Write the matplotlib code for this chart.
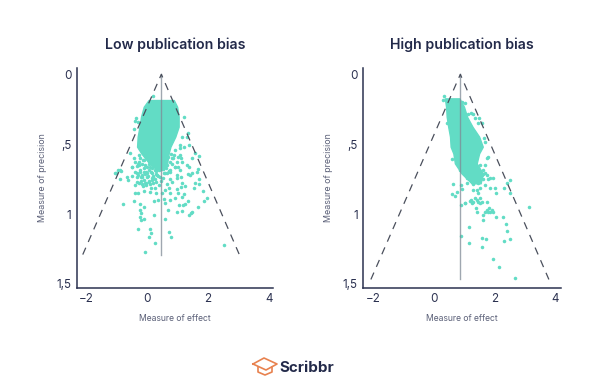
import matplotlib
matplotlib.use("Agg")
import matplotlib.pyplot as plt
from matplotlib.lines import Line2D

plt.rcParams['font.family'] = ['Inter', 'DejaVu Sans']

TEAL = '#62dcc5'
NAVY = '#232a4a'
LABEL = '#5b6078'

x_ticks = [-2, 0, 2, 4]
y_ticks = [0, 0.5, 1, 1.5]
y_labels = ['0', ',5', '1', '1,5']

titles = ['Low publication bias', 'High publication bias']

# Funnel geometry
low_center = 0.46
low_left = -2.13
low_right = 3.03
low_depth = 1.29
high_center = 0.88
high_left = -2.07
high_right = 3.80
high_depth = 1.468

# Dense core outlines
low_core_y = [.184, .232, .303, .375, .446, .518, .566, .637, .685]
low_core_l = [.04, -.12, -.21, -.26, -.32, -.34, -.20, .06, .32]
low_core_r = [.87, .98, 1.03, 1.03, .92, .76, .70, .65, .54]
high_core_y = [.172, .232, .303, .375, .446, .518, .566, .637, .709, .780]
high_core_l = [.37, .41, .43, .48, .54, .56, .65, .70, .92, 1.25]
high_core_r = [.85, 1.00, 1.10, 1.28, 1.50, 1.62, 1.50, 1.42, 1.62, 1.55]

# Individual studies
low_x = [-.81, -1.08, -.98, -.87, -.89, -.64, -.67, -.51, -.42, -.32, -.45, -.26, -.12, -.23, -.21, -.25, -.21, -.10,
         -.32, .08, .13, .05, .26, -.08, .70, .78, .57, .21, .21, .34, .54, .57, .74, .67, .96, 1.14, 1.05, 1.18, 1.25,
         1.34, 1.22, 1.14, .92, 1.66, 1.86, 1.97, 1.84, 1.53, 1.56, 1.69, 1.71, 1.36, 1.44, 1.47, 1.14, 1.25, 1.12, .96,
         1.0, .70, .74, .59, .48, .30, .10, .12, -.12, .26, .37, .65, .81, .74, .98, 1.12, 1.33, 1.47, 1.66, 1.36, 2.54,
         1.20, 1.33, 1.29, 1.14, 1.09, 1.2, 1.09, 1.36, .92, 1.09, 1.58, 1.69, 1.47, .89, .81, .98, 1.14, 1.31, .74, .65,
         .92, 1.09, 1.4, 1.64, .76, .98, .65, -.36, -.32, -.40, -.45, -.29, -.14, -.32, -.23, -.45, -.51, -.40, -.25,
         -.07, -.12, .04, .10, .26, -.56, -.89, -1.02, .19, -.18, -.34, -.01, -.51, .37, .54, .43, -.40, -.29, -.18,
         -.07, .04, .15, -.34, -.23, -.12, -.18, -.01, .15, .26, .32, .10, .26, -.29, -.40, .43, .59, .76, .20, -.05,
         # denser band
         -.35, -.27, -.18, -.10, -.02, .06, .14, .22, .30, -.30, -.20, -.08, .02, .12, .20, .28, .36,
         -.33, -.22, -.12, -.04, .05, .16, .24, .34, .44, .52, .62, .70, .82, .90, .72, .84,
         1.02, 1.10, 1.00, .60, .68, .78, -.15, -.05, .08, .18, .28]
low_y = [.928, .704, .685, .689, .751, .756, .737, .661, .852, .852, .904, .93, .947, .971, .995, 1.019, 1.043, 1.038,
         1.107, 1.107, 1.138, 1.162, 1.21, 1.272, 1.126, 1.162, 1.038, 1.007, .906, .899, .895, .918, .899, .971, .983,
         .976, .935, .935, .928, .904, .859, .880, .887, .952, .904, .883, .833, .816, .775, .785, .751, 1.007, .995,
         .983, .780, .799, .804, .823, .852, .816, .852, .828, .852, .847, .840, .816, .835, .816, .792, .785, .768,
         .751, .744, .737, .713, .708, .680, .661, 1.219, .308, .417, .446, .446, .506, .518, .530, .506, .542, .577,
         .565, .585, .601, .577, .601, .625, .625, .649, .625, .649, .666, .685, .721, .697, .685, .721, .709, .315,
         .339, .332, .394, .577, .613, .642, .601, .601, .666, .697, .685, .649, .697, .685, .625, .601, .565, .685,
         .709, .728, .733, .737, .737, .728, .685, .709, .649, .792, .78, .785, .775, .768, .756, .708, .696, .673,
         .72, .708, .704, .685, .72, .661, .649, .649, .625, .732, .708, .696, .155, .70,
         .655, .625, .645, .615, .660, .640, .670, .655, .690, .720, .735, .710, .725, .700, .735, .715, .670,
         .770, .765, .755, .775, .760, .745, .750, .730, .760, .740, .670, .690, .640, .660, .690, .600,
         .590, .600, .660, .610, .590, .570, .800, .790, .785, .775, .770]

high_x = [.65, .59, .70, .76, 1.03, 1.22, 1.29, 1.42, 1.47, 1.53, 1.31, 1.09, 1.31, 1.69, 1.80, 1.97, 1.86, 2.02, 2.05,
          2.32, 2.52, 2.43, 2.52, 3.15, 1.40, 1.42, 1.64, 1.64, 1.80, 1.91, 1.84, 1.97, 2.05, 2.30, 2.38, 2.43, 1.15,
          2.52, 2.32, 1.71, 1.58, 1.61, 1.15, .89, 1.97, 2.15, 2.67, .89, 1.03, 1.36, 1.42, 1.47, 1.53, 1.58, 1.25,
          1.20, 1.53, 1.75, 1.75, 1.69, 1.86, .89, .92, 1.09, 1.25, 1.47, 1.64, 1.53, 1.75, 1.62, 1.42, 1.03, .92, .34,
          .32, 1.22, 1.31, 1.14, 1.36, 1.50, 1.58, 1.47, 1.67, 1.69, 1.80, 1.75, 1.69, 1.64, 1.53, 1.58, 1.69, 1.86,
          .59, .43, .87]
high_y = [.785, .857, .871, .840, .924, .900, .912, .828, .852, .816, .828, .780, .785, .792, .752, .745, .816, .816,
          .847, .816, .847, .776, .757, .952, .960, .983, 1.007, 1.043, .983, .971, .960, .983, 1.019, 1.019, 1.074,
          1.119, 1.091, 1.179, 1.191, 1.179, 1.169, 1.234, 1.210, 1.155, 1.322, 1.382, 1.456, .936, .919, .888, .900,
          .912, .924, .916, .924, .907, .888, .912, .971, .983, .983, .792, .823, .745, .745, .780, .752, .733, .721,
          .714, .721, .203, .196, .155, .184, .279, .284, .284, .315, .315, .351, .351, .458, .482, .589, .601, .649,
          .685, .649, .721, .709, .745, .608, .351, .685]


def panel(rect, xlim, ylim, title, center, left, right, depth,
          core_y, core_l, core_r, xs, ys):
    ax = fig.add_axes(rect)
    ax.set_xlim(*xlim)
    ax.set_ylim(*ylim)
    for side in ('top', 'right'):
        ax.spines[side].set_visible(False)
    for side in ('left', 'bottom'):
        ax.spines[side].set_color('#2b3150')
        ax.spines[side].set_linewidth(1.1)
    ax.fill_betweenx(core_y, core_l, core_r, color=TEAL, lw=1.0, zorder=2)
    ax.scatter(xs, ys, s=6.5, color=TEAL, lw=0, zorder=2)
    ax.plot([center, center], [0, depth], color='#7f8a96', lw=1.0, alpha=0.75, zorder=3)
    ax.plot([left, center, right], [depth, 0, depth], color='#4a4f5c', lw=0.9,
            dashes=(6, 5), zorder=4)
    ax.set_xticks(x_ticks)
    ax.set_yticks(y_ticks)
    ax.set_yticklabels(y_labels)
    ax.tick_params(length=0, labelsize=8.4, labelcolor='#2b3150', pad=4)
    ax.set_xlabel('Measure of effect', fontsize=6.2, color=LABEL, labelpad=6)
    ax.set_ylabel('Measure of precision', fontsize=6.4, color=LABEL, labelpad=7)
    ax.set_title(title, fontsize=10.2, fontweight='semibold', color=NAVY, pad=14)
    return ax


fig = plt.figure(figsize=(6, 3.92), dpi=100, facecolor='white')
W, H = 600, 392
panel([77 / W, 1 - 287.7 / H, 196.3 / W, 219.4 / H], (-2.32, 4.15), (1.527, -0.043), titles[0],
      low_center, low_left, low_right, low_depth, low_core_y, low_core_l, low_core_r, low_x, low_y)
panel([363.3 / W, 1 - 287.7 / H, 197.4 / W, 219.4 / H], (-2.32, 4.19), (1.527, -0.043), titles[1],
      high_center, high_left, high_right, high_depth, high_core_y, high_core_l, high_core_r, high_x, high_y)

# Scribbr logo
ORANGE = '#e8824f'
logo_paths = [
    [(253, 364), (264, 358), (277, 364), (266, 370), (253, 364)],
    [(258, 367), (258, 372), (265, 375), (272, 372), (272, 367)],
]
for path in logo_paths:
    fig.add_artist(Line2D([p[0] / W for p in path], [1 - p[1] / H for p in path],
                          color=ORANGE, lw=1.2, transform=fig.transFigure))
fig.text(279 / W, 1 - 368 / H, 'Scribbr', fontsize=10.9, fontweight='bold', color=NAVY,
         ha='left', va='center')

fig.savefig('out.png', dpi=100, facecolor='white')
